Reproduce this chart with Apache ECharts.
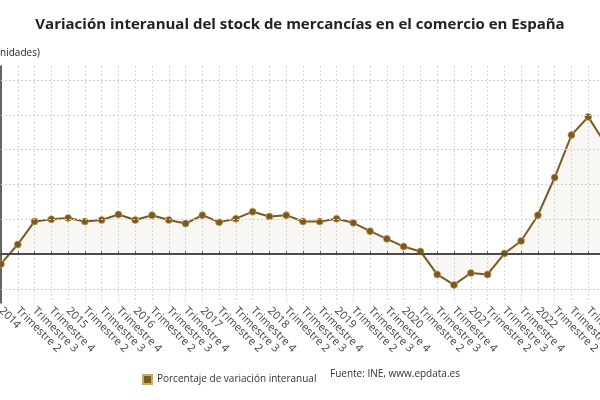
<!DOCTYPE html>
<html>
<head>
<meta charset="utf-8">
<script src="https://cdn.jsdelivr.net/npm/echarts@6/dist/echarts.min.js"></script>
<style>
  html, body { margin: 0; padding: 0; background: #fff; }
  #chart { width: 600px; height: 400px; }
</style>
</head>
<body>
<div id="chart"></div>
<script>
// datos
var categorias = [
  '2014', 'Trimestre 2', 'Trimestre 3', 'Trimestre 4',
  '2015', 'Trimestre 2', 'Trimestre 3', 'Trimestre 4',
  '2016', 'Trimestre 2', 'Trimestre 3', 'Trimestre 4',
  '2017', 'Trimestre 2', 'Trimestre 3', 'Trimestre 4',
  '2018', 'Trimestre 2', 'Trimestre 3', 'Trimestre 4',
  '2019', 'Trimestre 2', 'Trimestre 3', 'Trimestre 4',
  '2020', 'Trimestre 2', 'Trimestre 3', 'Trimestre 4',
  '2021', 'Trimestre 2', 'Trimestre 3', 'Trimestre 4',
  '2022', 'Trimestre 2', 'Trimestre 3', 'Trimestre 4',
  '2023'
];
var variacion = [
  -1.4, 1.4, 4.7, 5.0, 5.2, 4.7, 4.9, 5.7,
  4.9, 5.6, 4.9, 4.4, 5.6, 4.6, 5.1, 6.1,
  5.4, 5.6, 4.7, 4.7, 5.1, 4.5, 3.3, 2.2,
  1.1, 0.4, -2.9, -4.4, -2.7, -2.9, 0.1, 1.9,
  5.6, 11.0, 17.1, 19.7, 15.9
];
var lineasGrid = [-5, 5, 10, 15, 20, 25];

(function () {
  var myChart = echarts.init(document.getElementById('chart'));
  var marron = '#7b5a1f';
  var fuente = '"Open Sans", "Noto Sans", sans-serif';

  var gridData = lineasGrid.map(function (v) {
    return { yAxis: v };
  });

  var option = {
    animation: false,
    textStyle: { fontFamily: fuente },
    title: {
      text: 'Variación interanual del stock de mercancías en el comercio en España',
      left: 'center',
      top: 12,
      textStyle: {
        fontSize: 15,
        fontWeight: 'bold',
        color: '#222',
        fontFamily: fuente
      }
    },
    legend: {
      data: ['Porcentaje de variación interanual'],
      left: 137,
      top: 369,
      icon: 'rect',
      itemWidth: 9,
      itemHeight: 9,
      itemGap: 5,
      textStyle: { fontSize: 10, color: '#333', fontFamily: fuente }
    },
    graphic: [
      {
        type: 'text',
        left: -9,
        top: 48,
        style: { text: '(unidades)', fill: '#222', font: '10px "Open Sans"' }
      },
      {
        type: 'text',
        left: 330,
        top: 369,
        style: { text: 'Fuente: INE, www.epdata.es', fill: '#333', font: '10px "Open Sans"' }
      }
    ],
    grid: {
      left: 1,
      right: -5,
      top: 66,
      bottom: 97,
      outerBoundsMode: 'none'
    },
    xAxis: {
      type: 'category',
      boundaryGap: false,
      data: categorias,
      axisLine: { lineStyle: { color: '#333', width: 1.5 } },
      axisTick: { show: true, length: 3, inside: true, lineStyle: { color: '#555' } },
      axisLabel: {
        interval: 0,
        rotate: -45,
        fontSize: 11,
        color: '#444',
        margin: 6
      },
      splitLine: {
        show: true,
        interval: 0,
        lineStyle: { color: '#d8d8d8', type: [2, 2], width: 1 }
      }
    },
    yAxis: {
      type: 'value',
      min: -7,
      max: 27,
      axisLine: { show: true, lineStyle: { color: '#333', width: 1.5 } },
      axisTick: { show: false },
      axisLabel: { show: false },
      splitLine: { show: false }
    },
    series: [
      {
        // solo para las lineas horizontales de fondo
        name: 'rejilla',
        type: 'line',
        data: [],
        z: 1,
        markLine: {
          silent: true,
          symbol: ['none', 'none'],
          label: { show: false },
          lineStyle: { color: '#d0d0d0', type: [2, 2], width: 1 },
          data: gridData.concat([
            { yAxis: 0, lineStyle: { color: '#444', type: 'solid', width: 1.5 } }
          ])
        }
      },
      {
        name: 'Porcentaje de variación interanual',
        type: 'line',
        z: 3,
        data: variacion,
        symbol: 'circle',
        symbolSize: 7,
        lineStyle: { color: marron, width: 2 },
        itemStyle: { color: marron, borderColor: '#c9a86a', borderWidth: 0.6 },
        areaStyle: { color: 'rgba(140, 105, 50, 0.08)' }
      }
    ]
  };

  myChart.setOption(option);
  window.addEventListener('resize', function () {
    myChart.resize();
  });
})();
</script>
</body>
</html>
